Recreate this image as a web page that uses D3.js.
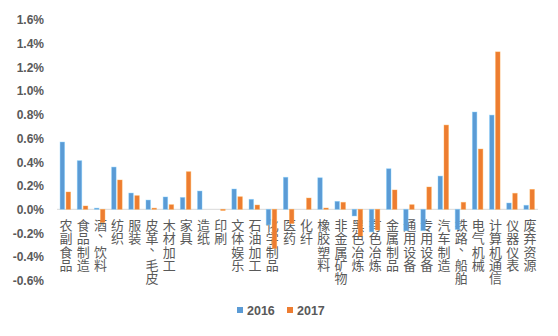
<!DOCTYPE html>
<html>
<head>
<meta charset="utf-8">
<script src="https://cdn.jsdelivr.net/npm/d3@7"></script>
<style>
  html, body { margin: 0; padding: 0; background: #fff; }
  svg { display: block; }
</style>
</head>
<body>
<svg id="chart" width="558" height="336"></svg>
<script>
const categories = ["农副食品","食品制造","酒、饮料","纺织","服装","皮革、毛皮","木材加工","家具","造纸","印刷","文体娱乐","石油加工","化学制品","医药","化纤","橡胶塑料","非金属矿物","黑色冶炼","有色冶炼","金属制品","通用设备","专用设备","汽车制造","铁路、船舶","电气机械","计算机通信","仪器仪表","废弃资源"];
const series = ["2016", "2017"];
const v2016 = [0.567,0.41,0.01,0.356,0.137,0.078,0.104,0.10,0.154,0.0,0.171,0.084,-0.13,0.27,0.0,0.266,0.067,-0.056,-0.19,0.342,-0.18,-0.18,0.28,-0.17,0.82,0.794,0.053,0.034];
const v2017 = [0.146,0.028,-0.11,0.247,0.115,0.01,0.039,0.317,0.0,-0.01,0.106,0.036,-0.33,-0.12,0.095,0.011,0.059,-0.225,-0.175,0.163,0.039,0.188,0.71,0.059,0.508,1.327,0.135,0.168];
const yTicks = [-0.6,-0.4,-0.2,0,0.2,0.4,0.6,0.8,1.0,1.2,1.4,1.6];
const colors = ["#5B9BD5", "#ED7D31"];

const svg = d3.select("#chart");
const x = d3.scaleBand().domain(categories).range([57, 538]).padding(0);
const y = d3.scaleLinear().domain([-0.6, 1.6]).range([280.5, 19.5]);
const numFont = "'Liberation Sans', Arial, sans-serif";
const cjkFont = "'Noto Sans CJK SC', sans-serif";

// Y axis labels
const yAxis = d3.axisLeft(y).tickValues(yTicks).tickSize(0).tickPadding(0)
  .tickFormat(d => d.toFixed(1) + "%");
const gy = svg.append("g").attr("transform", "translate(44,0)").call(yAxis);
gy.select(".domain").remove();
gy.selectAll("text").attr("fill", "#595959").attr("font-size", 12)
  .attr("font-family", numFont).attr("font-weight", "bold").attr("dy", "0.35em");

// X category labels (vertical, char by char)
const lab = svg.append("g");
categories.forEach(c => {
  const cx = x(c) + x.bandwidth() / 2 + 0.5;
  const t = lab.append("text").attr("font-family", cjkFont).attr("font-size", 13)
    .attr("fill", "#595959").attr("text-anchor", "middle");
  Array.from(c).forEach((ch, i) => {
    t.append("tspan").attr("x", cx + (ch === "、" ? 4 : 0)).attr("y", 230 + i * 13.3 - (ch === "、" ? 7 : 0)).text(ch);
  });
});

// zero axis line
svg.append("line").attr("x1", 57).attr("x2", 538).attr("y1", y(0)).attr("y2", y(0))
  .attr("stroke", "#D9D9D9").attr("stroke-width", 1);

// bars
const xs = d3.scaleBand().domain(series).range([0, 10]).padding(0);
[v2016, v2017].forEach((vals, si) => {
  svg.append("g").selectAll("rect").data(vals).join("rect")
    .attr("x", (d, i) => x(categories[i]) + x.bandwidth() / 2 - 5.5 + xs(series[si]) + si * 1)
    .attr("width", 4.5)
    .attr("y", d => y(Math.max(0, d)))
    .attr("height", d => Math.abs(y(d) - y(0)))
    .attr("fill", colors[si])
    .attr("stroke", d3.color(colors[si]).brighter(0.8))
    .attr("stroke-opacity", 0.5)
    .attr("stroke-width", 0.8);
});

// legend
const leg = svg.append("g");
const legX = [237, 287];
series.forEach((s, i) => {
  leg.append("rect").attr("x", legX[i]).attr("y", 307).attr("width", 6).attr("height", 6).attr("fill", colors[i]);
  leg.append("text").attr("x", legX[i] + 10).attr("y", 315).text(s)
    .attr("font-family", numFont).attr("font-size", 12.5).attr("font-weight", "bold").attr("fill", "#595959");
});
</script>
</body>
</html>
